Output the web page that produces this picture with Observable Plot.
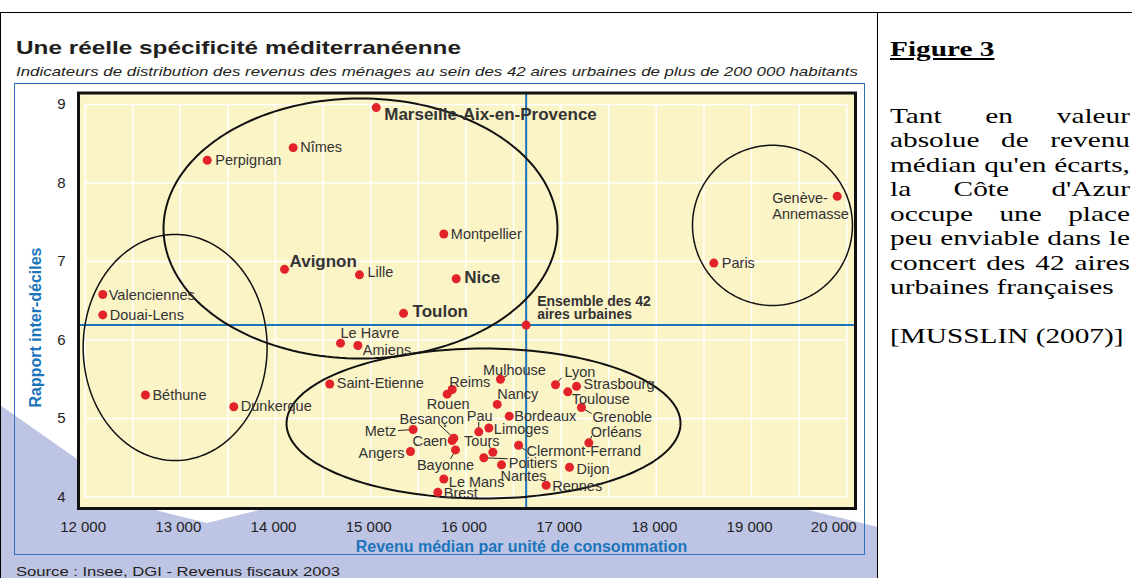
<!DOCTYPE html>
<html><head><meta charset="utf-8">
<script src="https://cdn.jsdelivr.net/npm/d3@7"></script>
<script src="https://cdn.jsdelivr.net/npm/@observablehq/plot@0.6"></script>
<style>
html,body{margin:0;padding:0;}
body{width:1132px;height:578px;overflow:hidden;position:relative;background:#fff;font-family:"Liberation Sans",Arial,sans-serif;}
.abs{position:absolute;white-space:nowrap;}
#lav{position:absolute;left:0;top:0;width:878px;height:578px;background:#BEC4E4;
 clip-path:polygon(0px 405px,147px 508px,207px 523px,267px 508px,267px 470px,800px 470px,800px 508px,878px 527px,878px 578px,0px 578px);}
#bframe{position:absolute;left:14px;top:83px;width:851px;height:472px;border:1.5px solid #2F70B8;box-sizing:border-box;}
#chart{position:absolute;left:14px;top:83px;}
.line{position:absolute;background:#000;}
#col{position:absolute;left:890px;top:37px;width:172px;transform:scaleX(1.395);transform-origin:0 0;
 font-family:"Liberation Serif","Times New Roman",serif;font-size:21px;line-height:24.5px;color:#000;}
#col .j{text-align:justify;text-align-last:justify;white-space:nowrap;}
#col div{white-space:nowrap;}
</style></head>
<body>
<div id="lav"></div>
<div class="line" style="left:0;top:12px;width:1132px;height:1px;"></div>
<div class="line" style="left:0;top:12px;width:1px;height:566px;"></div>
<div class="line" style="left:877px;top:12px;width:1px;height:566px;"></div>
<div id="bframe"></div>
<div id="title" class="abs" style="left:16px;top:38px;font-weight:bold;font-size:19px;line-height:19px;color:#231F20;">Une réelle spécificité méditerranéenne</div>
<div id="subtitle" class="abs" style="left:16px;top:65px;font-style:italic;font-size:13px;line-height:13px;color:#231F20;">Indicateurs de distribution des revenus des ménages au sein des 42 aires urbaines de plus de 200 000 habitants</div>
<div id="chart"></div>
<div id="source" class="abs" style="left:16px;top:565px;font-size:13px;line-height:13px;color:#231F20;">Source : Insee, DGI - Revenus fiscaux 2003</div>
<div id="col">
<div style="font-weight:bold;text-decoration:underline;">Figure 3</div>
<div style="height:42px"></div>
<div class="j">Tant en valeur</div>
<div class="j">absolue de revenu</div>
<div class="j">médian qu'en écarts,</div>
<div class="j">la Côte d'Azur</div>
<div class="j">occupe une place</div>
<div class="j">peu enviable dans le</div>
<div class="j">concert des 42 aires</div>
<div>urbaines françaises</div>
<div style="height:24.5px"></div>
<div>[MUSSLIN (2007)]</div>
</div>
<script>
// ---- data ----
const cities = ["Marseille-Aix-en-Provence","Nîmes","Perpignan","Montpellier","Avignon","Lille","Nice","Toulon","Le Havre","Amiens","Valenciennes","Douai-Lens","Béthune","Dunkerque","Genève-Annemasse","Paris","Saint-Etienne","Reims","Rouen","Mulhouse","Nancy","Bordeaux","Limoges","Pau","Metz","Besançon","Caen","Angers","Bayonne","Tours","Poitiers","Nantes","Le Mans","Brest","Rennes","Clermont-Ferrand","Lyon","Strasbourg","Toulouse","Grenoble","Orléans","Dijon"];
const revenu = [15058,14186,13283,15768,14095,14882,15898,15345,14683,14865,12186,12186,12634,13562,19900,18604,14570,15856,15803,16363,16329,16455,16241,16135,15446,15873,15856,15418,15891,16283,16188,16374,15768,15705,16843,16553,16941,17162,17070,17214,17291,17088];
const rapport = [8.96,8.45,8.29,7.35,6.90,6.83,6.78,6.34,5.96,5.93,6.58,6.32,5.30,5.15,7.83,6.98,5.44,5.37,5.31,5.50,5.18,5.03,4.88,4.83,4.86,4.75,4.72,4.58,4.60,4.57,4.50,4.41,4.23,4.06,4.15,4.66,5.43,5.41,5.34,5.14,4.69,4.38];
const ensembleLabel = "Ensemble des 42\naires urbaines";
const ensembleRevenu = [16633];
const ensembleRapport = [6.19];
const xTicks = [12000,13000,14000,15000,16000,17000,18000,19000,20000];
const yTicks = [4,5,6,7,8,9];
const xGrid = [12000,12500,13000,13500,14000,14500,15000,15500,16000,16500,17000,17500,18000,18500,19000,19500,20000];
// groups circled on the chart (centre and radii in data units)
const groupCX = [14893, 12946, 16185, 19220];
const groupCY = [7.42, 5.905, 4.936, 7.46];
const groupRX = [2069, 966, 2069, 840];
const groupRY = [1.656, 1.44, 0.955, 1.02];
const xTitle = "Revenu médian par unité de consommation";
const yTitle = "Rapport inter-déciles";

// ---- layout / style (pixels) ----
const W = 851, H = 472, mL = 64, mR = 10, mT = 9.5, mB = 47;
const xDomain = [11931, 20092], yDomain = [3.854, 9.146];
const blue = "#1B75BB", red = "#E3232A", ink = "#333";
const groupStroke = [2, 1.5, 2, 1.5];
const boldCities = new Set(["Marseille-Aix-en-Provence","Avignon","Nice","Toulon"]);
const labelText = {"Genève-Annemasse": "Genève-\nAnnemasse"};
const labelPos = {
 "Marseille-Aix-en-Provence":[8,7,"start"],"Nîmes":[7,-1,"start"],"Perpignan":[8,0,"start"],"Montpellier":[7,0,"start"],
 "Avignon":[5,-8,"start"],"Lille":[8,-3,"start"],"Nice":[8,-1,"start"],"Toulon":[9,-2,"start"],"Le Havre":[0,-10,"start"],
 "Amiens":[5,4,"start"],"Valenciennes":[6,0,"start"],"Douai-Lens":[7,0,"start"],"Béthune":[7,0,"start"],"Dunkerque":[7,-1,"start"],
 "Genève-Annemasse":[-65,10,"start"],"Paris":[8,0,"start"],"Saint-Etienne":[7,-1,"start"],"Reims":[-3,-8,"start"],"Rouen":[1,10,"middle"],
 "Mulhouse":[14,-9,"middle"],"Nancy":[0,-10,"start"],"Bordeaux":[5,0,"start"],"Limoges":[5,1,"start"],"Pau":[1,-16,"middle"],
 "Metz":[-17,1,"end"],"Besançon":[-22,-19,"middle"],"Caen":[-5,0,"end"],"Angers":[-6,1,"end"],"Bayonne":[-10,15,"middle"],
 "Tours":[-11,-11,"middle"],"Poitiers":[25,5,"start"],"Nantes":[-1,11,"start"],"Le Mans":[5,3,"start"],"Brest":[6,1,"start"],
 "Rennes":[6,1,"start"],"Clermont-Ferrand":[8,6,"start"],"Lyon":[9,-13,"start"],"Strasbourg":[7,-2,"start"],"Toulouse":[4,7,"start"],
 "Grenoble":[11,9,"start"],"Orléans":[2,-11,"start"],"Dijon":[7,2,"start"]
};
const leaderEnd = {"Mulhouse":[7,-4],"Lyon":[6,-7],"Grenoble":[10,6],"Orléans":[3,-7],"Clermont-Ferrand":[7,5],"Pau":[0,-10],
 "Besançon":[-15,-14],"Metz":[-15,1],"Bayonne":[-5,9],"Tours":[-4,-7],"Poitiers":[24,1]};

const sx = Plot.scale({x:{domain:xDomain, range:[mL, W-mR]}});
const sy = Plot.scale({y:{domain:yDomain, range:[H-mB, mT]}});
const shiftX = (v,dx)=>sx.invert(sx.apply(v)+dx);
const shiftY = (v,dy)=>sy.invert(sy.apply(v)+dy);

const rows = cities.map((c,i)=>({city:c, x:revenu[i], y:rapport[i]}));
const labels = rows.map(d=>{const [dx,dy,a]=labelPos[d.city];
  return {...d, text: labelText[d.city]||d.city, lx: shiftX(d.x,dx), ly: shiftY(d.y,dy), anchor:a, bold: boldCities.has(d.city)};});
const leaders = rows.filter(d=>leaderEnd[d.city]).map(d=>({...d, x2: shiftX(d.x,leaderEnd[d.city][0]), y2: shiftY(d.y,leaderEnd[d.city][1])}));

const ellPts = [];
groupCX.forEach((cx,k)=>{ d3.range(0,360,2).forEach(a=>{const t=a*Math.PI/180;
  ellPts.push({k, w:groupStroke[k], x: cx+groupRX[k]*Math.cos(t), y: groupCY[k]+groupRY[k]*Math.sin(t)});});});

const textMarks = [];
for (const anchor of ["start","middle","end"]) {
  textMarks.push(Plot.text(labels.filter(d=>!d.bold && d.anchor===anchor), {x:"lx", y:"ly", text:"text", textAnchor:anchor, fontSize:14.5, fill:ink, lineHeight:1.1}));
  textMarks.push(Plot.text(labels.filter(d=>d.bold && d.anchor===anchor), {x:"lx", y:"ly", text:"text", textAnchor:anchor, fontSize:17, fontWeight:"bold", fill:ink}));
}
const ens = ensembleRevenu.map((v,i)=>({x:v, y:ensembleRapport[i], lx: shiftX(v,11), ly: shiftY(ensembleRapport[i],-16.5), text: ensembleLabel}));
// axis titles anchored through the scales (pixel positions inside the svg)
const xTitleRow = [{t:xTitle, x: sx.invert(507), y: sy.invert(463)}];
const yTitleRow = [{t:yTitle, x: sx.invert(21), y: sy.invert(244)}];
const fmt = d => d3.format(",")(d).replace(/,/g, " ");

const chart = Plot.plot({
  width: W, height: H, marginLeft: mL, marginRight: mR, marginTop: mT, marginBottom: mB,
  x: {domain: xDomain, range:[mL, W-mR], label: null},
  y: {domain: yDomain, range:[H-mB, mT], label: null},
  style: {background: "transparent", fontFamily: "'Liberation Sans', Arial, sans-serif", overflow: "visible"},
  marks: [
    Plot.frame({fill: "#FBF4C7"}),
    Plot.ruleX(xGrid, {y1: 4, y2: 9, stroke: "white", strokeWidth: 1.5}),
    Plot.ruleY(yTicks, {x1: 12000, x2: 20000, stroke: "white", strokeWidth: 1.5}),
    Plot.ruleX(ensembleRevenu, {stroke: blue, strokeWidth: 2}),
    Plot.ruleY(ensembleRapport, {stroke: blue, strokeWidth: 2}),
    Plot.line(ellPts.filter(d=>d.w===2), {x:"x", y:"y", z:"k", stroke:"#111", strokeWidth:2, curve:"linear-closed"}),
    Plot.line(ellPts.filter(d=>d.w!==2), {x:"x", y:"y", z:"k", stroke:"#111", strokeWidth:1.5, curve:"linear-closed"}),
    Plot.link(leaders, {x1:"x", y1:"y", x2:"x2", y2:"y2", stroke:"#222", strokeWidth:1}),
    Plot.dot(rows, {x:"x", y:"y", r:4.5, fill:red}),
    Plot.dot(ens, {x:"x", y:"y", r:4.5, fill:red}),
    ...textMarks,
    Plot.text(ens, {x:"lx", y:"ly", text:"text", textAnchor:"start", fontSize:14, fontWeight:"bold", fill:ink, lineHeight:0.95}),
    Plot.frame({stroke: "#111", strokeWidth: 3}),
    Plot.axisX(xTicks.slice(0,-1), {tickSize: 0, tickPadding: 13, fontSize: 15, fill: "#222", label: null, dx: -2, tickFormat: fmt}),
    Plot.axisX(xTicks.slice(-1), {tickSize: 0, tickPadding: 13, fontSize: 15, fill: "#222", label: null, dx: -13, tickFormat: fmt}),
    Plot.axisY(yTicks, {tickSize: 0, tickPadding: 13, fontSize: 15, fill: "#222", label: null, tickFormat: d => String(d)}),
    Plot.text(xTitleRow, {x:"x", y:"y", text:"t", fontSize: 16, fontWeight: "bold", fill: blue}),
    Plot.text(yTitleRow, {x:"x", y:"y", text:"t", rotate: -90, fontSize: 16, fontWeight: "bold", fill: blue})
  ]
});
document.getElementById("chart").appendChild(chart);

function fit(id, target){ const el = document.getElementById(id); const w = el.getBoundingClientRect().width;
  el.style.transformOrigin = "0 0"; el.style.transform = `scaleX(${target/w})`; }
fit("title", 445); fit("subtitle", 842); fit("source", 324);
</script>
</body></html>
